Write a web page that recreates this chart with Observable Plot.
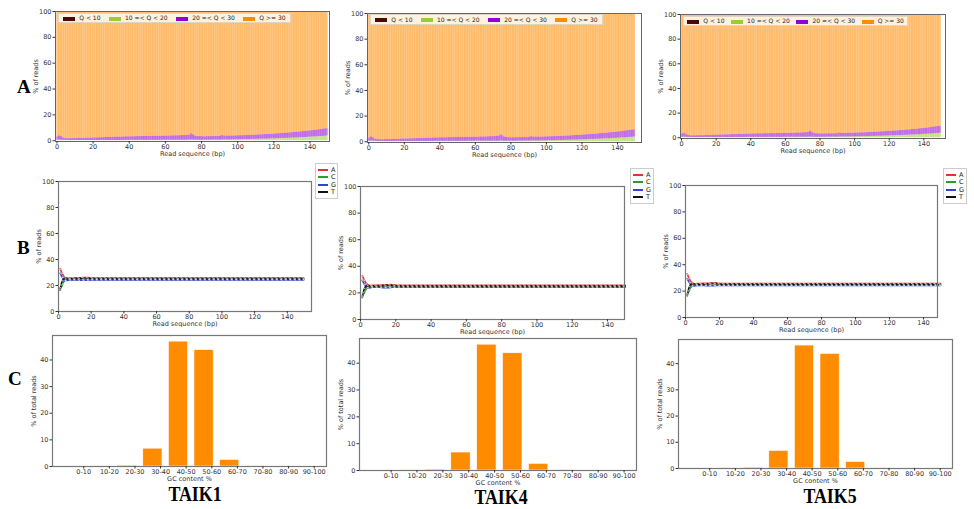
<!DOCTYPE html>
<html><head><meta charset="utf-8">
<script src="https://cdn.jsdelivr.net/npm/d3@7"></script>
<script src="https://cdn.jsdelivr.net/npm/@observablehq/plot@0.6"></script>
<style>
body{margin:0;background:#fff;font-family:"DejaVu Sans",sans-serif;}
#root{position:relative;width:974px;height:509px;overflow:hidden;background:#fff;}
.panel{position:absolute;}
.panel svg{display:block;}
.big{position:absolute;font-family:"Liberation Serif",serif;font-weight:bold;color:#000;line-height:0.7;white-space:nowrap;}
.qleg{position:absolute;background:rgba(255,253,245,0.82);border:1px solid rgba(220,210,190,0.9);display:flex;align-items:center;justify-content:space-around;font-size:6px;color:#222;box-sizing:border-box;}
.qleg span.sw{display:inline-block;width:12px;height:4px;margin-right:4px;vertical-align:middle;}
.bleg{position:absolute;background:#fff;border:1px solid #ccc;box-sizing:border-box;font-size:6.5px;color:#222;padding:2px 2px;}
.bleg div{display:flex;align-items:center;height:7.5px;white-space:nowrap;}
.bleg span.ln{display:inline-block;flex:none;width:10px;height:2px;margin-right:3px;}
</style></head><body><div id="root"></div><script>
// ---------------- data ----------------
const samples = ["TAIK1", "TAIK4", "TAIK5"];
const panelLetters = ["A", "B", "C"];

// A: per-base quality composition (% of reads)
const qualityLegend = ["Q < 10", "10 =< Q < 20", "20 =< Q < 30", "Q >= 30"];
const qualityColors = ["#4a0a0a", "#9acd32", "#9400d3", "#ff8c00"];
const readPositions = d3.range(1, 151);
// % reads with 10 =< Q < 20 at each position
const q10to20 = [
  0.4,0.5,0.4,0.3,0.3,0.2,0.2,0.2,0.2,0.2,
  0.2,0.2,0.2,0.2,0.2,0.2,0.2,0.2,0.2,0.2,
  0.2,0.2,0.2,0.2,0.2,0.2,0.2,0.2,0.2,0.2,
  0.2,0.2,0.2,0.2,0.2,0.2,0.2,0.3,0.3,0.3,
  0.3,0.3,0.3,0.3,0.3,0.3,0.3,0.3,0.3,0.3,
  0.3,0.3,0.3,0.3,0.3,0.3,0.3,0.3,0.3,0.4,
  0.4,0.4,0.4,0.4,0.4,0.4,0.4,0.4,0.4,0.4,
  0.4,0.4,0.4,0.5,0.6,0.5,0.4,0.4,0.4,0.4,
  0.4,0.4,0.4,0.4,0.5,0.5,0.5,0.5,0.5,0.5,
  0.5,0.6,0.6,0.6,0.6,0.6,0.6,0.7,0.7,0.7,
  0.7,0.8,0.8,0.8,0.9,0.9,0.9,1.0,1.0,1.0,
  1.1,1.1,1.2,1.2,1.2,1.3,1.3,1.4,1.4,1.5,
  1.5,1.6,1.6,1.7,1.7,1.8,1.8,1.9,1.9,2.0,
  2.1,2.1,2.2,2.3,2.3,2.4,2.5,2.5,2.6,2.7,
  2.8,2.9,3.0,3.0,3.1,3.2,3.3,3.4,3.5,3.7];
// % reads with Q < 30 (cumulative) at each position
const qBelow30 = [
  3.0,3.8,3.2,2.3,1.8,1.6,1.6,1.6,1.6,1.7,
  1.7,1.7,1.7,1.8,1.8,1.8,1.9,1.9,2.0,2.1,
  2.1,2.2,2.2,2.3,2.3,2.4,2.4,2.5,2.5,2.6,
  2.6,2.7,2.7,2.8,2.8,2.8,2.9,2.9,3.0,3.0,
  3.0,3.1,3.1,3.1,3.2,3.2,3.2,3.3,3.3,3.3,
  3.3,3.4,3.4,3.4,3.4,3.5,3.5,3.5,3.5,3.6,
  3.6,3.6,3.7,3.7,3.7,3.8,3.8,3.9,3.9,4.0,
  4.0,4.1,4.2,4.4,5.4,4.6,3.8,3.4,3.2,3.2,
  3.1,3.1,3.1,3.2,3.2,3.2,3.2,3.3,3.3,3.3,
  3.4,4.0,3.7,3.6,3.6,3.6,3.7,3.7,3.7,3.8,
  3.8,3.9,3.9,4.0,4.0,4.1,4.1,4.2,4.3,4.3,
  4.4,4.5,4.5,4.6,4.7,4.8,4.9,5.0,5.0,5.1,
  5.2,5.3,5.4,5.5,5.6,5.7,5.8,5.9,6.0,6.2,
  6.3,6.4,6.5,6.7,6.8,6.9,7.1,7.2,7.4,7.5,
  7.7,7.8,8.0,8.2,8.4,8.6,8.8,9.0,9.2,9.3];

// B: base composition (% of reads)
const bases = ["A", "C", "G", "T"];
const baseColors = ["#e8302c", "#2f9a2f", "#3342dd", "#111111"];
const basePositions = [1,2,3,4,5,6,7,8,9,10,11,12,13,14,15,16,17,18,19,20,25,30,40,50,60,70,80,90,100,110,120,130,140,150];
const baseA = [33.0,30.0,27.5,26.2,25.8,25.6,25.7,25.8,25.8,25.9,25.9,25.9,26.0,26.0,26.1,26.1,26.2,26.1,26.0,25.9,25.8,25.8,25.8,25.8,25.8,25.8,25.8,25.8,25.8,25.8,25.8,25.8,25.8,25.8];
const baseC = [18.0,19.5,22.5,24.0,24.6,24.8,24.7,24.6,24.6,24.6,24.5,24.5,24.4,24.4,24.4,24.4,24.4,24.5,24.5,24.5,24.6,24.6,24.6,24.6,24.6,24.6,24.6,24.6,24.6,24.6,24.6,24.6,24.6,24.6];
const baseG = [29.5,27.0,25.0,24.0,23.8,24.0,24.2,24.3,24.3,24.3,24.2,24.1,24.0,24.0,24.0,24.0,24.1,24.2,24.2,24.3,24.3,24.3,24.3,24.3,24.3,24.3,24.3,24.3,24.3,24.3,24.3,24.3,24.3,24.3];
const baseT = [16.5,22.5,25.0,25.6,25.4,25.3,25.2,25.2,25.2,25.2,25.3,25.4,25.5,25.6,25.7,25.8,25.8,25.7,25.6,25.4,25.3,25.3,25.3,25.3,25.3,25.3,25.3,25.3,25.3,25.3,25.3,25.3,25.3,25.3];

// C: GC content distribution (% of total reads)
const gcBins = ["0-10","10-20","20-30","30-40","40-50","50-60","60-70","70-80","80-90","90-100"];
const gcPercent = [0.01, 0.03, 0.35, 6.7, 46.9, 43.7, 2.5, 0.05, 0.01, 0.0];

// tick values
const readTicks = [0, 20, 40, 60, 80, 100, 120, 140];
const pctTicks = [0, 20, 40, 60, 80, 100];
const gcTicks = [0, 10, 20, 30, 40];

// ---------------- layout (frames in page pixels) ----------------
const frames = {
  A: [ {x0:55, x1:329, y0:11, y1:141, dx:[-0.8,150.8]},
       {x0:367, x1:641, y0:12.5, y1:141.3, dx:[-0.7,153.5]},
       {x0:680, x1:945, y0:14, y1:137.7, dx:[-0.6,152.5]} ],
  B: [ {x0:57.7, x1:311, y0:180.7, y1:311, dx:[0,154.8]},
       {x0:359.7, x1:623.3, y0:186.3, y1:319.3, dx:[0,149.6]},
       {x0:685, x1:936.7, y0:185, y1:316.7, dx:[0,148.2]} ],
  C: [ {x0:52.3, x1:326, y0:335, y1:465.7},
       {x0:359.3, x1:636.7, y0:337.7, y1:469.3},
       {x0:678.3, x1:952.7, y0:339, y1:468.3} ]
};
const root = document.getElementById("root");
const MB = 22;
const baseStyle = {fontSize: "6.5px", fontFamily: "DejaVu Sans, sans-serif", color: "#333", background: "transparent", overflow: "visible"};

function place(svg, f, ml, mt, bg) {
  const div = document.createElement("div");
  div.className = "panel";
  div.style.left = (f.x0 - ml) + "px";
  div.style.top = (f.y0 - mt) + "px";
  if (bg) div.style.background = bg;
  div.appendChild(svg);
  root.appendChild(div);
  return div;
}
function dims(f, ml, mt, mr) {
  return {width: Math.round(f.x1 - f.x0) + ml + mr, height: Math.round(f.y1 - f.y0) + mt + MB,
          marginLeft: ml, marginRight: mr, marginTop: mt, marginBottom: MB};
}
const xAxisOpts = {tickSize: 2.5, tickPadding: 0.5, labelAnchor: "center", labelArrow: "none", labelOffset: 14.5};
const yAxisOpts = {tickSize: 2.5, tickPadding: 1.5, labelAnchor: "center", labelArrow: "none", labelOffset: 22};

// ---------- Row A ----------
const qualityRows = [];
readPositions.forEach((p, i) => {
  const segs = [0, q10to20[i], qBelow30[i] - q10to20[i], 100 - qBelow30[i]];
  let acc = 0;
  segs.forEach((v, k) => { if (v > 0) qualityRows.push({pos: p, cat: qualityLegend[k], y1: acc, y2: acc + v, color: qualityColors[k]}); acc += v; });
});
frames.A.forEach((f, s) => {
  const ml = 42, mt = 4;
  const svg = Plot.plot({
    ...dims(f, ml, mt, 4), style: baseStyle,
    x: {domain: f.dx}, y: {domain: [-0.6, 100]},
    marks: [
      Plot.rect(qualityRows, {x1: d => d.pos - 1.1, x2: d => d.pos + 0.1, y1: "y1", y2: "y2", fill: "color", fillOpacity: 0.5}),
      Plot.frame({stroke: "#666", strokeWidth: 1}),
      Plot.axisX({...xAxisOpts, ticks: readTicks, label: "Read sequence (bp)"}),
      Plot.axisY({...yAxisOpts, ticks: pctTicks, label: "% of reads"})
    ]
  });
  place(svg, f, ml, mt);
  const w = (f.x1 - f.x0) * 0.85;
  const leg = document.createElement("div");
  leg.className = "qleg";
  leg.style.left = (f.x0 + 3) + "px"; leg.style.top = (f.y0 + 1.5) + "px";
  leg.style.width = w + "px"; leg.style.height = "10.5px";
  leg.innerHTML = qualityLegend.map((q, k) => `<span><span class="sw" style="background:${qualityColors[k]}"></span>${q}</span>`).join("");
  root.appendChild(leg);
});

// ---------- Row B ----------
const baseSeries = [baseA, baseC, baseG, baseT];
const baseRows = [];
bases.forEach((b, k) => basePositions.forEach((p, i) => baseRows.push({pos: p, pct: baseSeries[k][i], base: b, color: baseColors[k]})));
const legendBoxes = [{x: 315, y: 163, w: 23}, {x: 630, y: 168, w: 24}, {x: 943, y: 168, w: 24}];
frames.B.forEach((f, s) => {
  const ml = 42, mt = 4;
  const svg = Plot.plot({
    ...dims(f, ml, mt, 4), style: baseStyle,
    x: {domain: f.dx}, y: {domain: [0, 100]},
    marks: [
      Plot.line(baseRows, {x: "pos", y: "pct", z: "base", stroke: "color", strokeWidth: 1.6}),
      Plot.line(baseRows, {x: "pos", y: "pct", z: "base", stroke: "white", strokeWidth: 0.8, strokeDasharray: "1,3.5", strokeOpacity: 0.9}),
      Plot.frame({stroke: "#777", strokeWidth: 1.2}),
      Plot.axisX({...xAxisOpts, ticks: readTicks, label: "Read sequence (bp)"}),
      Plot.axisY({...yAxisOpts, ticks: pctTicks, label: "% of reads"})
    ]
  });
  place(svg, f, ml, mt);
  const lb = legendBoxes[s];
  const leg = document.createElement("div");
  leg.className = "bleg";
  leg.style.left = lb.x + "px"; leg.style.top = lb.y + "px"; leg.style.width = lb.w + "px";
  leg.innerHTML = bases.map((b, k) => `<div><span class="ln" style="background:${baseColors[k]}"></span>${b}</div>`).join("");
  root.appendChild(leg);
});

// ---------- Row C ----------
const gcRows = gcBins.map((b, i) => ({i, bin: b, pct: gcPercent[i]}));
frames.C.forEach((f, s) => {
  const ml = 30, mt = 3;
  const svg = Plot.plot({
    ...dims(f, ml, mt, 16), style: {...baseStyle, background: "#fff"},
    x: {domain: [-0.92, 9.78]}, y: {domain: [0, 49.2]},
    marks: [
      Plot.rect(gcRows, {x1: d => d.i - 0.375, x2: d => d.i + 0.375, y1: 0, y2: "pct", fill: "#ff8c00", stroke: "#fff", strokeWidth: 0.6}),
      Plot.frame({stroke: "#777", strokeWidth: 1.2}),
      Plot.axisX({...xAxisOpts, ticks: gcBins.map((b, i) => i + 0.3), tickFormat: d => gcBins[Math.round(d - 0.3)], label: "GC content %", labelOffset: 14}),
      Plot.axisY({...yAxisOpts, ticks: gcTicks, label: "% of total reads", labelOffset: 21})
    ]
  });
  place(svg, f, ml, mt, "#fff");
});

// ---------- big labels ----------
function bigText(t, x, y, size, sx) {
  const d = document.createElement("div");
  d.className = "big"; d.textContent = t;
  d.style.left = x + "px"; d.style.top = y + "px"; d.style.fontSize = size + "px";
  if (sx) { d.style.transform = `translateX(-50%) scaleX(${sx})`; }
  root.appendChild(d);
}
bigText(panelLetters[0], 17, 80, 19);
bigText(panelLetters[1], 17, 241, 19);
bigText(panelLetters[2], 8, 372, 19);
const sampleCenters = [[195, 486.5], [500.5, 490], [829.7, 488.5]];
samples.forEach((t, i) => bigText(t, sampleCenters[i][0], sampleCenters[i][1], 21, 0.85));
</script></body></html>
